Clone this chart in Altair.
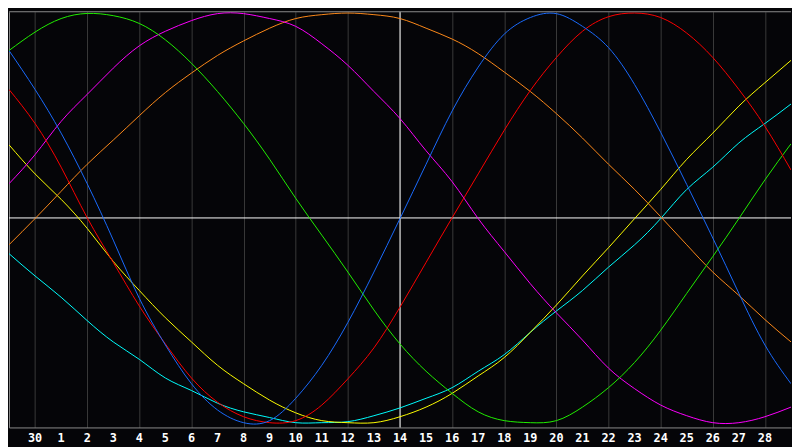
import altair as alt
import pandas as pd

# x positions (one per day column) and their tick labels
positions = list(range(31))
tick_positions = list(range(1, 30))
tick_labels = ["30"] + [str(d) for d in range(1, 29)]

# curve values (percent of amplitude) read at each day column
green = [81.7, 90.7, 97.3, 99.8, 98.7, 94.9, 86.9, 75.5, 61.7, 46.1, 28.6, 9.6, -8.4, -26.4, -44.9, -61.5,
         -74.8, -85.6, -94.6, -98.9, -99.9, -98.9, -92.3, -82.8, -70.5, -54.8, -36.8, -18.8, -0.3, 18.6, 36.2]
blue = [81.7, 62.7, 41.4, 16.7, -10.8, -39.2, -62.0, -80.9, -93.7, -99.9, -98.9, -88.0, -71.9, -51.0, -26.4, -0.3,
        26.2, 52.2, 73.6, 89.7, 97.8, 99.7, 93.5, 83.1, 65.1, 41.8, 16.3, -9.8, -36.8, -62.0, -80.9]
red = [62.7, 46.1, 24.8, 0.1, -21.7, -43.0, -61.5, -78.1, -89.9, -97.0, -99.9, -98.9, -91.3, -78.5, -63.4, -43.5,
       -21.7, 0.1, 21.5, 42.8, 62.2, 78.3, 91.1, 98.2, 100.0, 97.8, 90.2, 78.3, 62.7, 44.7, 23.4]
magenta = [16.7, 30.9, 47.1, 60.3, 73.1, 84.0, 91.1, 96.3, 99.7, 99.7, 97.3, 93.5, 85.0, 74.5, 61.7, 48.5,
           32.8, 17.7, -0.3, -16.4, -32.1, -46.3, -59.6, -73.3, -83.3, -91.3, -96.5, -99.9, -99.9, -97.0, -92.3]
orange = [-13.1, -0.3, 13.0, 26.2, 38.0, 49.9, 61.2, 70.7, 79.3, 86.4, 92.6, 97.3, 99.2, 100.0, 99.2, 97.3,
          92.6, 87.3, 80.2, 71.2, 61.7, 50.9, 39.0, 26.2, 13.9, 0.6, -13.1, -26.4, -37.8, -49.6, -60.5]
yellow = [35.7, 21.5, 9.1, -5.1, -21.2, -35.4, -48.7, -60.5, -71.9, -80.9, -88.9, -95.1, -98.9, -99.9, -99.9, -97.0,
          -92.3, -85.6, -77.1, -68.1, -55.8, -42.5, -28.3, -14.5, -0.3, 13.9, 28.6, 41.4, 54.6, 66.0, 76.9]
cyan = [-17.4, -28.3, -38.7, -50.1, -60.5, -69.0, -78.1, -84.2, -90.4, -94.6, -97.4, -99.9, -99.9, -99.4, -96.5, -92.7,
        -88.0, -82.8, -74.8, -66.7, -55.8, -45.4, -35.4, -24.0, -13.1, -0.3, 13.9, 24.8, 36.6, 46.1, 55.6]

series_names = ["cyan", "yellow", "orange", "magenta", "green", "red", "blue"]
series_values = [cyan, yellow, orange, magenta, green, red, blue]
series_colors = ["#00ffff", "#ffff00", "#ff8a1a", "#ff00ff", "#22f000", "#ff0000", "#1a6cff"]

today_pos = 15

rows = []
for name, vals in zip(series_names, series_values):
    for p, v in zip(positions, vals):
        rows.append({"pos": p, "value": v, "series": name})
df = pd.DataFrame(rows)
labels_df = pd.DataFrame({"pos": tick_positions, "label": tick_labels})

W, H = 792, 421
xscale = alt.Scale(domain=[0, 30], nice=False, zero=False)
yscale = alt.Scale(domain=[-102.23, 100.62], nice=False, zero=False)

lines = alt.Chart(df).mark_line(strokeWidth=1, interpolate="natural", clip=True).encode(
    x=alt.X("pos:Q", scale=xscale, axis=alt.Axis(
        values=tick_positions, labels=False, grid=True, gridColor="#3a3a3a", gridWidth=1,
        ticks=False, domainColor="#8c8c8c", domainWidth=1, title=None)),
    y=alt.Y("value:Q", scale=yscale, axis=alt.Axis(
        labels=False, ticks=False, grid=False, domainColor="#8c8c8c", domainWidth=1, title=None)),
    color=alt.Color("series:N", scale=alt.Scale(domain=series_names, range=series_colors), legend=None),
    detail="series:N",
)

day_text = alt.Chart(labels_df).mark_text(
    color="#ffffff", font="DejaVu Sans Mono", fontWeight="bold", fontSize=12,
    align="center", baseline="middle"
).encode(x=alt.X("pos:Q", scale=xscale), y=alt.value(H + 11), text="label:N")

hline = alt.Chart(pd.DataFrame({"value": [0]})).mark_rule(color="#ffffff", strokeWidth=1).encode(
    y=alt.Y("value:Q", scale=yscale))
vline = alt.Chart(pd.DataFrame({"pos": [today_pos]})).mark_rule(color="#ffffff", strokeWidth=1).encode(
    x=alt.X("pos:Q", scale=xscale))
top_border = alt.Chart(pd.DataFrame({"a": [0]})).mark_rule(color="#8c8c8c", strokeWidth=1).encode(
    x=alt.value(0), x2=alt.value(W), y=alt.value(0))

chart = alt.layer(hline, vline, lines, top_border, day_text).properties(
    width=W, height=H, padding=0, background="#050508"
).configure_view(stroke=None)

chart.save("out.html", embed_options={"renderer": "svg", "actions": False})
